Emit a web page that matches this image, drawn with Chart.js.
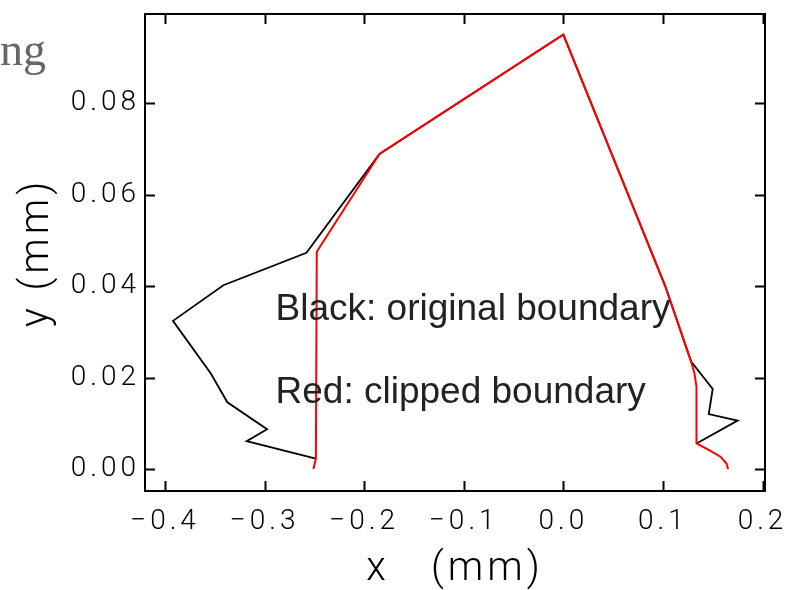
<!DOCTYPE html>
<html>
<head>
<meta charset="utf-8">
<script src="https://cdn.jsdelivr.net/npm/chart.js@4/dist/chart.umd.min.js"></script>
<style>
  html, body { margin: 0; padding: 0; background: #fff; }
  #wrap { width: 785px; height: 590px; }
</style>
</head>
<body>
<div id="wrap"><canvas id="boundaryChart"></canvas></div>
<script>
// original boundary (black)
var blackX = [-0.2485, -0.318, -0.2975, -0.3374, -0.354, -0.392, -0.3414, -0.258, -0.1846, 0.0, 0.1025, 0.1283, 0.150, 0.146, 0.175, 0.1337];
var blackY = [0.0023, 0.0061, 0.0087, 0.0146, 0.0209, 0.0324, 0.0402, 0.0473, 0.0689, 0.095, 0.0399, 0.0235, 0.0175, 0.012, 0.0106, 0.0056];

// clipped boundary (red)
var redX = [-0.251, -0.2485, -0.2476, -0.1846, 0.0, 0.1025, 0.1283, 0.1317, 0.1337, 0.1337, 0.146, 0.1578, 0.1638, 0.1655];
var redY = [0.0, 0.0023, 0.0475, 0.0689, 0.095, 0.0399, 0.0235, 0.0209, 0.018, 0.0056, 0.0042, 0.0027, 0.0012, 0.0];

var xTicks = [-0.4, -0.3, -0.2, -0.1, 0.0, 0.1, 0.2];
var yTicks = [0.00, 0.02, 0.04, 0.06, 0.08];

function toPoints(xs, ys) {
    return xs.map(function (x, i) { return {x: x, y: ys[i]}; });
}

var tickFont = {family: 'Roboto, "DejaVu Sans", sans-serif', size: 28, weight: 300};
var titleFont = {family: 'Roboto, "DejaVu Sans", sans-serif', size: 40, weight: 300, lineHeight: 1};

// frame + inward ticks on all four sides, plus the text notes
var framePlugin = {
    id: 'frame',
    beforeDraw: function (chart) {
        chart.ctx.letterSpacing = '4px';
    },
    afterDraw: function (chart) {
        var ctx = chart.ctx, a = chart.chartArea;
        var xs = chart.scales.x, ys = chart.scales.y;
        ctx.save();
        ctx.letterSpacing = '0px';
        ctx.strokeStyle = '#000';
        ctx.lineWidth = 2;
        ctx.strokeRect(a.left, a.top, a.right - a.left, a.bottom - a.top);
        ctx.beginPath();
        xTicks.forEach(function (v) {
            var px = Math.round(xs.getPixelForValue(v)) + 0.5;
            ctx.moveTo(px, a.bottom); ctx.lineTo(px, a.bottom - 10);
            ctx.moveTo(px, a.top); ctx.lineTo(px, a.top + 10);
        });
        yTicks.forEach(function (v) {
            var py = Math.round(ys.getPixelForValue(v)) + 0.5;
            ctx.moveTo(a.left, py); ctx.lineTo(a.left + 10, py);
            ctx.moveTo(a.right, py); ctx.lineTo(a.right - 10, py);
        });
        ctx.stroke();

        ctx.fillStyle = '#222';
        ctx.font = '37px "Liberation Sans", Arial, sans-serif';
        ctx.textAlign = 'left';
        ctx.textBaseline = 'alphabetic';
        var tx = xs.getPixelForValue(-0.289);
        ctx.fillText('Black: original boundary', tx, ys.getPixelForValue(0.0326));
        ctx.fillText('Red: clipped boundary', tx, ys.getPixelForValue(0.0144));

        // clipped title text at the top left
        ctx.fillStyle = '#666';
        ctx.font = '46px "Liberation Serif", serif';
        ctx.textAlign = 'right';
        ctx.fillText('ng', 46, 65);
        ctx.restore();
    }
};

var ctx = document.getElementById('boundaryChart').getContext('2d');
var chart = new Chart(ctx, {
    type: 'scatter',
    data: {
        datasets: [{
            label: 'original boundary',
            data: toPoints(blackX, blackY),
            showLine: true,
            borderColor: '#000',
            borderWidth: 1.8,
            pointRadius: 0,
            fill: false,
            order: 1
        }, {
            label: 'clipped boundary',
            data: toPoints(redX, redY),
            showLine: true,
            borderColor: '#ff0000',
            borderWidth: 2,
            pointRadius: 0,
            fill: false,
            order: 0
        }]
    },
    options: {
        responsive: true,
        maintainAspectRatio: false,
        animation: false,
        layout: {padding: {top: 14, right: 20, left: 0, bottom: 0}},
        plugins: {legend: {display: false}, tooltip: {enabled: false}},
        scales: {
            x: {
                type: 'linear',
                min: -0.4201,
                max: 0.2025,
                grid: {display: false, drawTicks: false},
                border: {display: false},
                afterBuildTicks: function (s) { s.ticks = xTicks.map(function (v) { return {value: v}; }); },
                afterFit: function (s) { s.height = 99; s.paddingLeft = 0; s.paddingRight = 0; },
                ticks: {
                    color: '#000',
                    font: tickFont,
                    padding: 14,
                    maxRotation: 0,
                    autoSkip: false,
                    callback: function (v) { return (v < 0 ? '\u2212' : '') + Math.abs(v).toFixed(1); }
                },
                title: {display: true, text: 'x   (mm)', color: '#000', font: titleFont, padding: {top: 0, bottom: 0}}
            },
            y: {
                type: 'linear',
                min: -0.0048,
                max: 0.0995,
                grid: {display: false, drawTicks: false},
                border: {display: false},
                afterBuildTicks: function (s) { s.ticks = yTicks.map(function (v) { return {value: v}; }); },
                afterFit: function (s) { s.width = 145; s.paddingTop = 0; s.paddingBottom = 0; },
                ticks: {
                    color: '#000',
                    font: tickFont,
                    padding: 5,
                    autoSkip: false,
                    callback: function (v) { return v.toFixed(2); }
                },
                title: {display: true, text: 'y (mm)', color: '#000', font: titleFont, padding: {top: 18, bottom: 0}}
            }
        }
    },
    plugins: [framePlugin]
});
</script>
</body>
</html>
